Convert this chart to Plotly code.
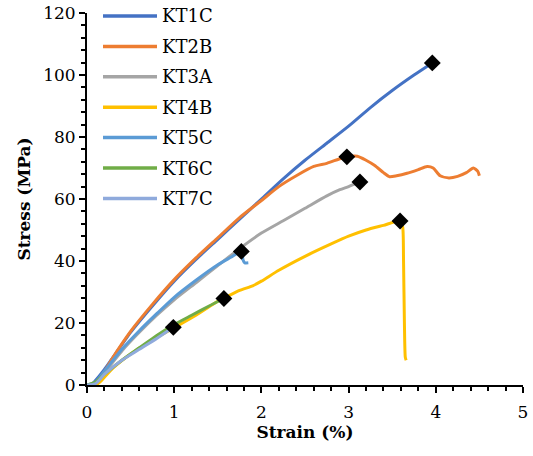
import plotly.graph_objects as go

# ---------------- data ----------------
series_names = ["KT1C", "KT2B", "KT3A", "KT4B", "KT5C", "KT6C", "KT7C"]
series_colors = ["#4472C4", "#ED7D31", "#A5A5A5", "#FFC000", "#5B9BD5", "#70AD47", "#8FAADC"]

kt1c_strain = [0, 0.05, 0.1, 0.2, 0.3, 0.5, 0.75, 1.0, 1.25, 1.5, 1.75, 2.0, 2.25, 2.5, 2.75, 3.0, 3.25, 3.5, 3.75, 3.96]
kt1c_stress = [0, 0, 1.5, 5, 9, 17, 25.5, 33.5, 40.5, 47, 53.5, 60, 66.5, 72.5, 78, 83.5, 89.5, 95, 100, 103.9]

kt2b_strain = [0, 0.08, 0.15, 0.3, 0.5, 0.75, 1.0, 1.25, 1.5, 1.75, 2.0, 2.2, 2.4, 2.6, 2.75, 2.9, 2.98, 3.1,
               3.2, 3.3, 3.4, 3.47, 3.55, 3.67, 3.8, 3.9, 3.97, 4.05, 4.15, 4.25, 4.35, 4.43, 4.48, 4.5]
kt2b_stress = [0, 0, 2, 9, 17.3, 26, 34, 41, 47.5, 54, 59.5, 64, 67.5, 70.5, 71.5, 73, 73.6, 73.8,
               72.5, 70.8, 68.5, 67.2, 67.5, 68.3, 69.5, 70.5, 70, 67.5, 66.8, 67.3, 68.5, 70, 69, 67.5]

kt3a_strain = [0, 0.1, 0.2, 0.4, 0.6, 0.8, 1.0, 1.25, 1.5, 1.75, 2.0, 2.25, 2.5, 2.75, 2.9, 3.0, 3.13]
kt3a_stress = [0, 0.5, 4, 11, 17, 22.5, 27.5, 33, 38.5, 44, 49, 53, 57, 61, 63, 64, 65.5]

kt4b_strain = [0, 0.1, 0.15, 0.3, 0.5, 0.75, 1.0, 1.25, 1.5, 1.57, 1.75, 1.9, 2.0, 2.2, 2.5, 2.8, 3.0, 3.2, 3.4,
               3.59, 3.62, 3.63, 3.64, 3.65, 3.66]
kt4b_stress = [0, 0, 1, 5.5, 10, 14.5, 18.5, 22.5, 27, 28, 30.5, 32, 33.5, 37, 41.5, 45.5, 48, 50, 51.5,
               52.9, 51, 40, 20, 9, 8]

kt5c_strain = [0, 0.1, 0.2, 0.4, 0.6, 0.8, 1.0, 1.25, 1.5, 1.65, 1.77, 1.79, 1.81, 1.85]
kt5c_stress = [0, 1, 4.5, 11.5, 17.5, 23, 28.3, 33.8, 38.8, 41.2, 43.1, 40.3, 39.4, 39.4]

kt6c_strain = [0, 0.1, 0.2, 0.4, 0.6, 0.8, 1.0, 1.2, 1.4, 1.57]
kt6c_stress = [0, 1, 3.5, 8, 12, 16, 19.5, 22.5, 25.5, 27.9]

kt7c_strain = [0, 0.1, 0.2, 0.4, 0.6, 0.8, 0.99]
kt7c_stress = [0, 0.5, 3.5, 8, 11.5, 15, 18.6]

peak_strain = [3.96, 2.98, 3.13, 3.59, 1.77, 1.57, 0.99]
peak_stress = [103.9, 73.6, 65.5, 52.9, 43.1, 27.9, 18.6]

x_ticks = [0, 1, 2, 3, 4, 5]
y_ticks = [0, 20, 40, 60, 80, 100, 120]

# ---------------- figure ----------------
strains = [kt1c_strain, kt2b_strain, kt3a_strain, kt4b_strain, kt5c_strain, kt6c_strain, kt7c_strain]
stresses = [kt1c_stress, kt2b_stress, kt3a_stress, kt4b_stress, kt5c_stress, kt6c_stress, kt7c_stress]

FONT = "DejaVu Serif"
W, H = 533, 456
ML, MR, MT, MB = 87, 10, 13, 71

fig = go.Figure()
for name, color, xs, ys in zip(series_names, series_colors, strains, stresses):
    fig.add_trace(go.Scatter(x=xs, y=ys, mode="lines", name=name,
                             line=dict(color=color, width=3, shape="spline", smoothing=0.6),
                             showlegend=False, cliponaxis=False))

fig.add_trace(go.Scatter(x=peak_strain, y=peak_stress, mode="markers", name="Peak",
                         marker=dict(symbol="diamond", size=13, color="black"),
                         showlegend=False, cliponaxis=False))

# manual legend (long line samples like the reference)
pw = W - ML - MR
ph = H - MT - MB
def px_to_paper(px, py):
    return (px - ML) / pw, (H - MB - py) / ph

shapes = []
annotations = []
for i, (name, color) in enumerate(zip(series_names, series_colors)):
    py = 16 + i * 30.4
    x0, y0 = px_to_paper(103, py)
    x1, _ = px_to_paper(157, py)
    xt, _ = px_to_paper(160, py)
    shapes.append(dict(type="line", xref="paper", yref="paper", x0=x0, x1=x1, y0=y0, y1=y0,
                       line=dict(color=color, width=3.5)))
    annotations.append(dict(text=name, xref="paper", yref="paper", x=xt, y=y0,
                            xanchor="left", yanchor="middle", showarrow=False,
                            font=dict(family=FONT, size=18, color="black")))

axis_common = dict(showgrid=False, zeroline=False, showline=True, linecolor="black", linewidth=1.8,
                   ticks="outside", ticklen=6, tickwidth=1.8, tickcolor="black",
                   tickfont=dict(family=FONT, size=17, color="black"))

fig.update_layout(
    width=W, height=H,
    margin=dict(l=ML, r=MR, t=MT, b=MB),
    paper_bgcolor="white", plot_bgcolor="white",
    font=dict(family=FONT, color="black"),
    shapes=shapes, annotations=annotations,
    xaxis=dict(range=[0, 5], tickvals=x_ticks, **axis_common,
               minor=dict(dtick=0.2, ticks="outside", ticklen=4, tickwidth=1.5, tickcolor="black"),
               ticklabelstandoff=5,
               title=dict(text="<b>Strain (%)</b>", font=dict(family=FONT, size=17, color="black"), standoff=0),
               automargin=False),
    yaxis=dict(range=[0, 120], tickvals=y_ticks, **axis_common,
               minor=dict(dtick=4, ticks="outside", ticklen=4, tickwidth=1.5, tickcolor="black"),
               title=dict(text="<b>Stress (MPa)</b>", font=dict(family=FONT, size=17, color="black"), standoff=8),
               automargin=False),
)

fig.write_html("out.html")
